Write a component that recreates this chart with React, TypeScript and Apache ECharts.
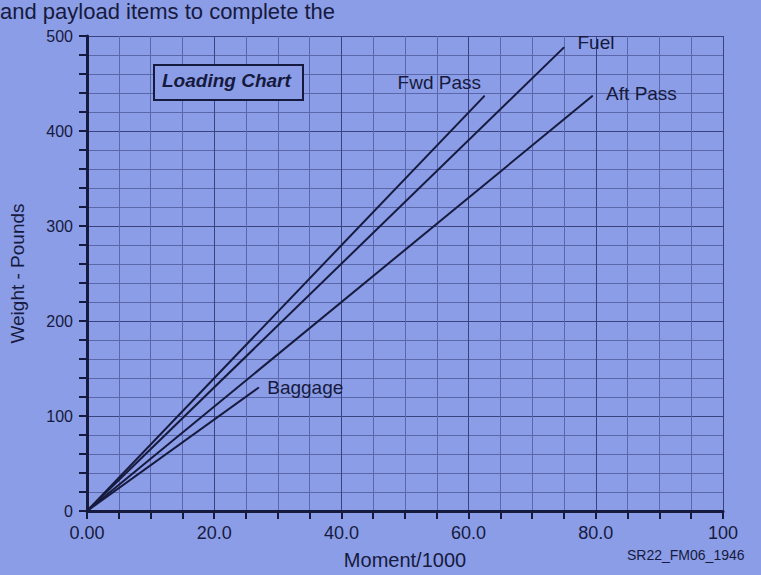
import React, { useEffect, useRef } from "react";
import * as echarts from "echarts";

// Moment/1000 and weight (pounds) at the ends of each loading line (lines start at origin)
const fwdPassMoment = [0, 62.5];
const fwdPassWeight = [0, 437];
const fuelMoment = [0, 75];
const fuelWeight = [0, 488];
const aftPassMoment = [0, 79.5];
const aftPassWeight = [0, 437];
const baggageMoment = [0, 27];
const baggageWeight = [0, 130];

const seriesNames = ["Fwd Pass", "Fuel", "Aft Pass", "Baggage"];
const xTickLabels: Record<number, string> = { 0: "0.00", 20: "20.0", 40: "40.0", 60: "60.0", 80: "80.0", 100: "100" };
const yTickLabels = [0, 100, 200, 300, 400, 500];

const BG = "#8b9de6";
const INK = "#161a3e";
const FONT = "'Liberation Sans', Arial, Helvetica, sans-serif";

export default function App() {
  const ref = useRef<HTMLDivElement>(null);
  useEffect(() => {
    if (!ref.current) return;
    const chart = echarts.init(ref.current, null, { renderer: "svg" });
    const labelStyle = { color: INK, fontSize: 19, fontFamily: FONT };
    const build = (xs: number[], ys: number[], name: string, lbl: any) =>
      xs.map((x, i) =>
        i === xs.length - 1
          ? { value: [x, ys[i]], label: { show: true, formatter: name, ...labelStyle, ...lbl } }
          : { value: [x, ys[i]] }
      );
    const mk = (name: string, data: any[]) => ({
      name,
      type: "line",
      data,
      symbol: "circle",
      symbolSize: 1,
      showSymbol: true,
      itemStyle: { color: INK },
      lineStyle: { color: INK, width: 2 },
      label: { show: false },
      z: 5,
    });
    const light = "#5a67aa";
    const dark = "#3a4380";
    chart.setOption({
      animation: false,
      backgroundColor: BG,
      textStyle: { fontFamily: FONT },
      grid: { left: 87, right: 38, top: 36, bottom: 61 },
      xAxis: {
        type: "value",
        min: 0,
        max: 100,
        interval: 5,
        name: "Moment/1000",
        nameLocation: "middle",
        nameGap: 39,
        nameTextStyle: { color: INK, fontSize: 20, fontFamily: FONT },
        axisLine: { show: true, onZero: false, lineStyle: { color: INK, width: 3 } },
        axisTick: { show: true, length: 8, lineStyle: { color: INK, width: 2 } },
        axisLabel: {
          color: INK,
          fontSize: 18,
          fontFamily: FONT,
          margin: 13,
          showMinLabel: true,
          showMaxLabel: true,
          formatter: (v: number) => (xTickLabels[v] !== undefined ? xTickLabels[v] : ""),
        },
        splitLine: { show: true, lineStyle: { color: [dark, light, light, light], width: 1 } },
      },
      yAxis: {
        type: "value",
        min: 0,
        max: 500,
        interval: 20,
        name: "Weight - Pounds",
        nameLocation: "middle",
        nameGap: 60,
        nameRotate: 90,
        nameTextStyle: { color: INK, fontSize: 19, fontFamily: FONT },
        axisLine: { show: true, onZero: false, lineStyle: { color: INK, width: 3 } },
        axisTick: { show: true, length: 8, lineStyle: { color: INK, width: 2 } },
        axisLabel: {
          color: INK,
          fontSize: 16,
          fontFamily: FONT,
          margin: 14,
          formatter: (v: number) => (yTickLabels.indexOf(v) >= 0 ? String(v) : ""),
        },
        splitLine: { show: true, lineStyle: { color: [dark, light, light, light, light], width: 1 } },
      },
      graphic: [
        {
          type: "text",
          left: 0,
          top: 0,
          z: 100,
          style: { text: "and payload items to complete the", fill: INK, font: `22px ${FONT}` },
        },
        {
          type: "rect",
          left: 153,
          top: 64,
          z: 100,
          shape: { x: 0, y: 0, width: 149, height: 35 },
          style: { fill: BG, stroke: INK, lineWidth: 2 },
        },
        {
          type: "text",
          left: 162,
          top: 71,
          z: 101,
          style: {
            text: "Loading Chart",
            fill: INK,
            font: `italic bold 19px ${FONT}`,
          },
        },
        {
          type: "text",
          left: 627,
          top: 548,
          z: 100,
          style: { text: "SR22_FM06_1946", fill: INK, font: `14px ${FONT}` },
        },
      ],
      series: [
        mk(seriesNames[0], build(fwdPassMoment, fwdPassWeight, seriesNames[0], { position: "left", offset: [2, -13] })),
        mk(seriesNames[1], build(fuelMoment, fuelWeight, seriesNames[1], { position: "right", offset: [8, -5] })),
        mk(seriesNames[2], build(aftPassMoment, aftPassWeight, seriesNames[2], { position: "right", offset: [8, -2] })),
        mk(seriesNames[3], build(baggageMoment, baggageWeight, seriesNames[3], { position: "right", offset: [3, 0] })),
      ],
    });
    return () => chart.dispose();
  }, []);
  return (
    <div
      ref={ref}
      style={{ position: "fixed", left: 0, top: 0, width: 761, height: 575, background: BG }}
    />
  );
}
